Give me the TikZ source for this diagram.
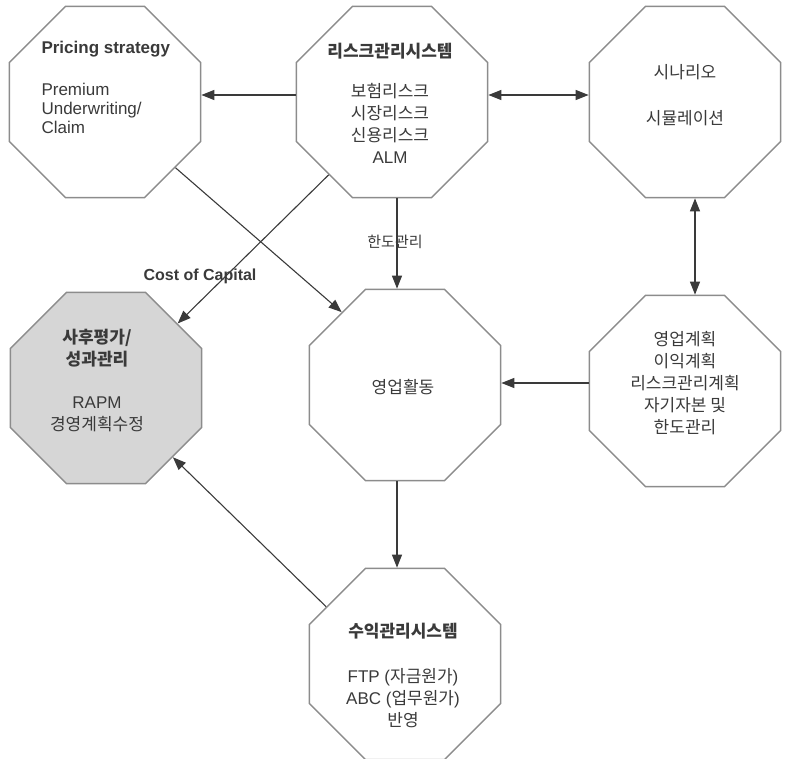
\documentclass[tikz,border=0pt]{standalone}
\usepackage{fontspec}
\setmainfont{Liberation Sans}
\newfontfamily\kr{Noto Sans CJK KR}
\usetikzlibrary{shapes.geometric,arrows.meta}
\definecolor{edge}{HTML}{8C8C8C}
\definecolor{ink}{HTML}{3A3A3A}
\definecolor{shade}{HTML}{D6D6D6}
\begin{document}
\begin{tikzpicture}[x=1pt,y=-1pt,
  oct/.style={draw=edge,line width=1.4pt,regular polygon,regular polygon sides=8,minimum size=207pt,inner sep=0pt},
  txt/.style={text=ink,align=center,font=\fontsize{17}{22}\selectfont},
  arr/.style={draw=ink,line width=1.1pt,-{Triangle[length=13pt,width=10pt]}},
  dbl/.style={arr,{Triangle[length=13pt,width=10pt]}-{Triangle[length=13pt,width=10pt]}}]
\useasboundingbox (0,0) rectangle (790,758);
\node[oct] (price) at (105,102) {};
\node[oct] (risk) at (392,102) {};
\node[oct] (scen) at (685,102) {};
\node[oct,fill=shade] (post) at (106,388) {};
\node[oct] (act) at (405,385) {};
\node[oct] (plan) at (685,391) {};
\node[oct] (prof) at (405,664) {};
\node[txt,align=left,anchor=west,font=\fontsize{17}{19}\selectfont] (pricet) at (38,87) {\textbf{Pricing strategy}\\[23pt]Premium\\Underwriting/\\Claim};
\node[txt] (riskt) at (390,103) {\textbf{\kr 리스크관리시스템}\\[18pt]{\kr 보험리스크}\\{\kr 시장리스크}\\{\kr 신용리스크}\\ALM};
\node[txt] (scent) at (685,95) {{\kr 시나리오}\\[24pt]{\kr 시뮬레이션}};
\node[txt] (postt) at (97,380) {\textbf{\kr 사후평가/}\\\textbf{\kr 성과관리}\\[21pt]RAPM\\{\kr 경영계획수정}};
\node[txt] (actt) at (403,387) {{\kr 영업활동}};
\node[txt] (plant) at (685,383) {{\kr 영업계획}\\{\kr 이익계획}\\{\kr 리스크관리계획}\\{\kr 자기자본 및}\\{\kr 한도관리}};
\node[txt] (proft) at (403,675) {\textbf{\kr 수익관리시스템}\\[23pt]FTP ({\kr 자금원가})\\ABC ({\kr 업무원가})\\{\kr 반영}};
\node[txt,font=\bfseries\fontsize{16}{18}\selectfont] (coc) at (200,276) {Cost of Capital};
\node[txt,font=\kr\fontsize{15}{18}\selectfont] (limit) at (395,242) {한도관리};
\draw[arr] ([yshift=7pt]risk.west) -- ([yshift=7pt]price.east);
\draw[dbl] ([yshift=7pt]risk.east) -- ([yshift=7pt]scen.west);
\draw[dbl] ([xshift=10pt]scen.south) -- ([xshift=10pt]plan.north);
\draw[arr] ([yshift=8pt]plan.west) -- ([yshift=2pt]act.east);
\draw[arr] ([xshift=5pt]risk.south) -- ([xshift=-8pt]act.north);
\draw[arr] ([xshift=-8pt]act.south) -- ([xshift=-8pt]prof.north);
\draw[arr] (price.-43) -- (act.131);
\draw[arr] (risk.229) -- (post.42);
\draw[arr] (prof.144) -- (post.-46);
\end{tikzpicture}
\end{document}
